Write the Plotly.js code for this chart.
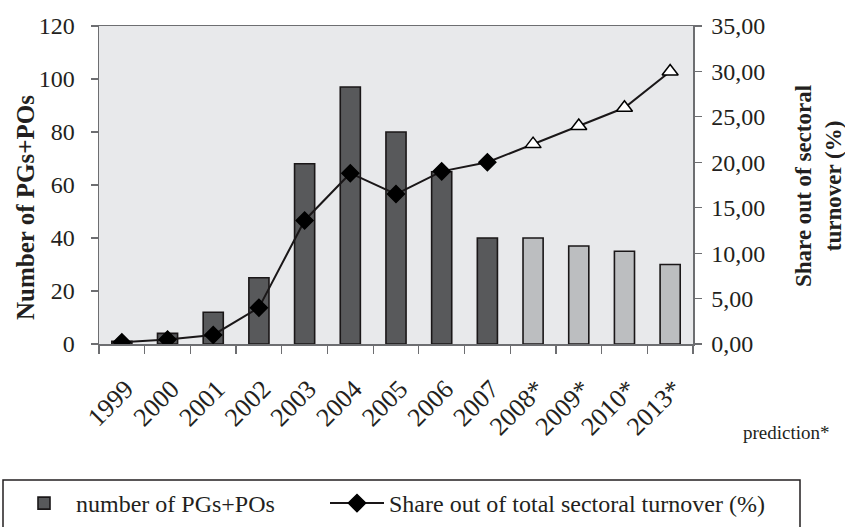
<!DOCTYPE html>
<html>
<head>
<meta charset="utf-8">
<script src="https://cdn.plot.ly/plotly-3.0.1.min.js"></script>
<style>html,body{margin:0;padding:0;background:#fff;}#chart{width:845px;height:527px;}</style>
</head>
<body>
<div id="chart"></div>
<script>
const categories = ['1999','2000','2001','2002','2003','2004','2005','2006','2007','2008*','2009*','2010*','2013*'];
const pgsPos = [1, 4, 12, 25, 68, 97, 80, 65, 40, 40, 37, 35, 30];
const sharePct = [0.2, 0.5, 1.0, 4.0, 13.6, 18.8, 16.5, 19.0, 20.0, 22.0, 24.0, 26.0, 30.0];
const isPrediction = [false,false,false,false,false,false,false,false,false,true,true,true,true];
const leftTicks = [0, 20, 40, 60, 80, 100, 120];
const rightTicks = [0, 5, 10, 15, 20, 25, 30, 35];

const DARK = '#58595b', LIGHT = '#bcbec0', INK = '#000000', AXIS = '#6d6e71';
const FONT = 'Liberation Serif, Times New Roman, serif';

const barTrace = {
  type: 'bar', x: categories, y: pgsPos, name: 'number of PGs+POs',
  marker: { color: isPrediction.map(p => p ? LIGHT : DARK), line: { color: '#1a1718', width: 1.6 } },
  yaxis: 'y', xaxis: 'x', legend: 'legend'
};
const lineTrace = {
  type: 'scatter', mode: 'lines+markers', x: categories, y: sharePct,
  name: 'Share out of total sectoral turnover (%)',
  line: { color: '#1a1718', width: 2 },
  marker: {
    symbol: isPrediction.map(p => p ? 'triangle-up' : 'diamond'),
    size: isPrediction.map(p => p ? 14 : 13),
    color: isPrediction.map(p => p ? '#ffffff' : INK),
    opacity: 1,
    line: { color: INK, width: 1.5 }
  },
  yaxis: 'y2', xaxis: 'x', legend: 'legend2'
};

const boundaries = categories.map((_, i) => i - 0.5).concat([categories.length - 0.5]);
const TXT = '#231f20';
const legendFont = { size: 24, family: FONT, color: TXT };

const layout = {
  width: 845, height: 527,
  margin: { l: 99, r: 152, t: 26, b: 183, pad: 0, autoexpand: false },
  paper_bgcolor: '#ffffff', plot_bgcolor: '#e8e9eb',
  font: { family: FONT, color: TXT, size: 24 },
  separators: ', ',
  bargap: 0.56,
  xaxis: {
    type: 'category', range: [-0.5, categories.length - 0.5], automargin: false,
    tickson: 'boundaries', ticks: 'outside', ticklen: 8, tickwidth: 1.2, tickcolor: AXIS,
    showline: true, linecolor: AXIS, linewidth: 1.5, mirror: true,
    showgrid: false, zeroline: false, tickangle: -45,
    tickfont: { size: 26, family: FONT, color: TXT }, ticklabelstandoff: 18, ticklabelshift: 4
  },
  xaxis2: {
    overlaying: 'x', anchor: 'y', range: [-0.5, categories.length - 0.5], automargin: false,
    tickmode: 'array', tickvals: boundaries, ticks: 'inside', ticklen: 8, tickwidth: 1.2, tickcolor: AXIS,
    showticklabels: false, showgrid: false, zeroline: false, showline: false
  },
  yaxis: {
    range: [0, 120], tickmode: 'array', tickvals: leftTicks, automargin: false,
    ticks: 'outside', ticklen: 7, tickwidth: 1.2, tickcolor: AXIS,
    showline: true, linecolor: AXIS, linewidth: 1.5, showgrid: false, zeroline: false,
    tickfont: { size: 24, family: FONT, color: TXT }, ticklabelstandoff: 11
  },
  yaxis2: {
    overlaying: 'y', side: 'right', range: [0, 35], tickmode: 'array', tickvals: rightTicks, automargin: false,
    tickformat: '.2f', ticks: 'outside', ticklen: 7, tickwidth: 1.2, tickcolor: AXIS,
    showline: true, linecolor: AXIS, linewidth: 1.5, showgrid: false, zeroline: false,
    tickfont: { size: 24, family: FONT, color: TXT }, ticklabelstandoff: 5
  },
  yaxis3: {
    overlaying: 'y', anchor: 'x', side: 'left', range: [0, 120], tickmode: 'array', tickvals: leftTicks, automargin: false,
    ticks: 'inside', ticklen: 8, tickwidth: 1.2, tickcolor: AXIS,
    showticklabels: false, showgrid: false, zeroline: false, showline: false
  },
  yaxis4: {
    overlaying: 'y', anchor: 'x', side: 'right', range: [0, 35], tickmode: 'array', tickvals: rightTicks, automargin: false,
    ticks: 'inside', ticklen: 8, tickwidth: 1.2, tickcolor: AXIS,
    showticklabels: false, showgrid: false, zeroline: false, showline: false
  },
  showlegend: true,
  legend: {
    orientation: 'h', x: (12 - 99) / 594, y: -0.4308, xanchor: 'left', yanchor: 'top',
    font: legendFont, bgcolor: 'rgba(0,0,0,0)', borderwidth: 0, itemwidth: 54
  },
  legend2: {
    orientation: 'h', x: (325 - 99) / 594, y: -0.4308, xanchor: 'left', yanchor: 'top',
    font: legendFont, bgcolor: 'rgba(0,0,0,0)', borderwidth: 0, itemwidth: 54
  },
  shapes: [{
    type: 'rect', xref: 'paper', yref: 'paper', x0: (3 - 99) / 594, x1: (800 - 99) / 594, y0: (344 - 480) / 318, y1: -0.62,
    line: { color: TXT, width: 1.5 }, fillcolor: 'rgba(0,0,0,0)'
  }],
  annotations: [
    { xref: 'paper', yref: 'paper', x: (25 - 99) / 594, y: (344 - 208) / 318, xanchor: 'center', yanchor: 'middle',
      text: '<b>Number of PGs+POs</b>', textangle: -90, showarrow: false,
      font: { size: 25, family: FONT, color: TXT } },
    { xref: 'paper', yref: 'paper', x: (818 - 99) / 594, y: (344 - 186) / 318, xanchor: 'center', yanchor: 'middle',
      text: '<b>Share out of sectoral<br>turnover (%)</b>', textangle: -90, showarrow: false,
      font: { size: 23, family: FONT, color: TXT } },
    { xref: 'paper', yref: 'paper', x: (786 - 99) / 594, y: (344 - 432) / 318, xanchor: 'center', yanchor: 'middle',
      text: 'prediction*', showarrow: false, font: { size: 19, family: FONT, color: TXT } }
  ]
};

Plotly.newPlot('chart', [barTrace, lineTrace], layout, { displayModeBar: false, staticPlot: true });
</script>
</body>
</html>
